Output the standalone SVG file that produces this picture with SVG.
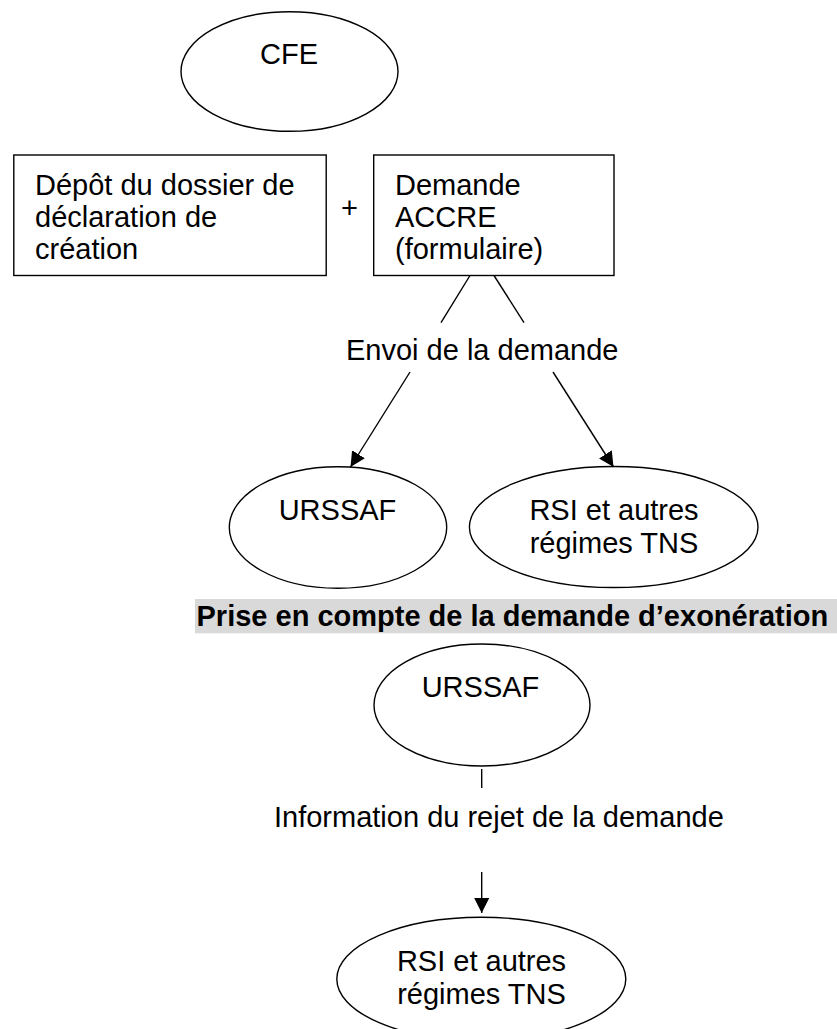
<svg xmlns="http://www.w3.org/2000/svg" width="837" height="1029" viewBox="0 0 837 1029">
  <style>
    text { font-family: "Liberation Sans", Arial, sans-serif; font-size: 29px; fill: #000; }
    .mid { text-anchor: middle; }
    .bold { font-weight: bold; }
    .shape { fill: #fff; stroke: #000; stroke-width: 1.4; }
    .conn { fill: none; stroke: #000; stroke-width: 1.4; }
  </style>
  <defs>
    <marker id="arrow" markerUnits="userSpaceOnUse" markerWidth="16" markerHeight="16" refX="15" refY="7.5" orient="auto">
      <path d="M0,0 L15,7.5 L0,15 z" fill="#000"/>
    </marker>
  </defs>
  <rect width="837" height="1029" fill="#fff"/>

  <g id="cfe">
    <ellipse class="shape" cx="289.5" cy="71.5" rx="108.5" ry="59.8"/>
    <text class="mid" x="289" y="64">CFE</text>
  </g>

  <g id="depot">
    <rect class="shape" x="13.8" y="155" width="312.4" height="120.5"/>
    <text x="35" y="195">Dépôt du dossier de</text>
    <text x="35" y="227">déclaration de</text>
    <text x="35" y="259">création</text>
  </g>

  <g id="plus">
    <text class="mid" x="349.5" y="218">+</text>
  </g>

  <g id="demande">
    <rect class="shape" x="373.7" y="155" width="240.3" height="120.5"/>
    <text x="395" y="195">Demande</text>
    <text x="395" y="227">ACCRE</text>
    <text x="395" y="259">(formulaire)</text>
  </g>

  <g id="envoi">
    <text x="346" y="360">Envoi de la demande</text>
  </g>

  <g id="urssaf1">
    <ellipse class="shape" cx="338" cy="527.5" rx="108.7" ry="60.8"/>
    <text class="mid" x="337.5" y="520">URSSAF</text>
  </g>

  <g id="rsi1">
    <ellipse class="shape" cx="613.7" cy="527" rx="144.3" ry="60.5"/>
    <text class="mid" x="614" y="520">RSI et autres</text>
    <text class="mid" x="614" y="553">régimes TNS</text>
  </g>

  <g id="prise">
    <rect x="195" y="599" width="642" height="34.3" fill="#d9d9d9"/>
    <text class="bold" x="196.5" y="626">Prise en compte de la demande d’exonération</text>
  </g>

  <g id="urssaf2">
    <ellipse class="shape" cx="482" cy="705" rx="108" ry="61"/>
    <text class="mid" x="480.5" y="696.5">URSSAF</text>
  </g>

  <g id="information">
    <text x="274" y="826.5">Information du rejet de la demande</text>
  </g>

  <g id="rsi2">
    <ellipse class="shape" cx="481.3" cy="979" rx="144.5" ry="61.7"/>
    <text class="mid" x="481.5" y="971">RSI et autres</text>
    <text class="mid" x="481.5" y="1004">régimes TNS</text>
  </g>

  <g id="connectors">
    <line class="conn" x1="470" y1="275.5" x2="441" y2="322.7"/>
    <line class="conn" x1="494" y1="275.5" x2="524" y2="322.7"/>
    <line class="conn" x1="410" y1="372" x2="350.5" y2="467" marker-end="url(#arrow)"/>
    <line class="conn" x1="553" y1="372" x2="613.5" y2="467" marker-end="url(#arrow)"/>
    <line class="conn" x1="481.7" y1="769" x2="481.7" y2="788"/>
    <line class="conn" x1="481.7" y1="872" x2="481.7" y2="913" marker-end="url(#arrow)"/>
  </g>
</svg>
